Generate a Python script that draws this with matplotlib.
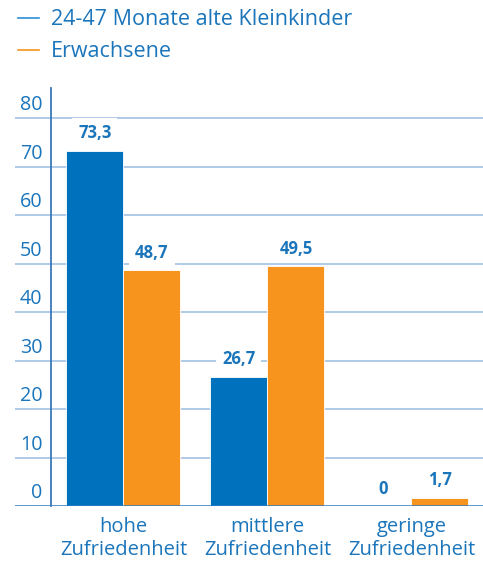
"""Zufriedenheit: Kleinkinder vs. Erwachsene."""

import matplotlib

matplotlib.use("Agg")
import matplotlib.pyplot as plt
import numpy as np
from matplotlib.lines import Line2D

categories = ["hohe\nZufriedenheit", "mittlere\nZufriedenheit", "geringe\nZufriedenheit"]
kleinkinder = [73.3, 26.7, 0.0]
erwachsene = [48.7, 49.5, 1.7]
series_names = ["24-47 Monate alte Kleinkinder", "Erwachsene"]
yticks = [0, 10, 20, 30, 40, 50, 60, 70, 80]

BLUE = "#0071bc"
ORANGE = "#f7941d"
TEXT = "#1b75bb"
GRID = "#a9c6e6"

plt.rcParams["font.family"] = ["Open Sans", "DejaVu Sans"]

fig = plt.figure(figsize=(4.83, 5.62), dpi=100)
ax = fig.add_axes([15 / 483, 56 / 562, 468 / 483, 418 / 562])
ax.set_xlim(-0.753, 2.497)
ax.set_ylim(0, 86.2)
ax.axis("off")

x = np.arange(len(categories))
w = 0.396
ax.bar(x - w / 2, kleinkinder, w, color=BLUE, edgecolor="white", linewidth=0.6, zorder=2)
ax.bar(x + w / 2, erwachsene, w, color=ORANGE, edgecolor="white", linewidth=0.6, zorder=2)

# gridlines across full width, labels sitting on top of them
for t in yticks[1:]:
    ax.axhline(t, color=GRID, lw=1.3, zorder=0)
ax.axhline(0, color="#2f7cc0", lw=1.8, zorder=3)
ax.plot([-0.503, -0.503], [0, 86.2], color="#3a78b8", lw=1.3, zorder=3, clip_on=False)
for t in yticks:
    ax.text(-0.562, t + 0.6, str(t), ha="right", va="bottom", fontsize=14.2, color=TEXT)

# value labels with white boxes cutting the gridlines
for xs, vals in ((x - w / 2, kleinkinder), (x + w / 2, erwachsene)):
    for xi, v in zip(xs, vals):
        lbl = f"{v:g}".replace(".", ",")
        ax.annotate(lbl, (xi, v), xytext=(0, 6), textcoords="offset points",
                    ha="center", va="bottom", fontsize=12, fontweight="bold",
                    color=TEXT, zorder=4,
                    bbox=dict(boxstyle="square,pad=0.35", fc="white", ec="none"))

for xi, c in zip(x, categories):
    ax.text(xi, -2.2, c, ha="center", va="top", fontsize=14.5, color=TEXT,
            linespacing=1.22)

handles = [Line2D([], [], color="#2b8fd6", lw=1.2), Line2D([], [], color=ORANGE, lw=1.2)]
fig.legend(handles, series_names, loc="upper left", bbox_to_anchor=(0.006, 1.01),
           frameon=False, fontsize=15.5, labelcolor=TEXT, handlelength=1.0,
           handletextpad=0.55, labelspacing=0.5, borderaxespad=0.3)

fig.savefig("out.png", dpi=100)
